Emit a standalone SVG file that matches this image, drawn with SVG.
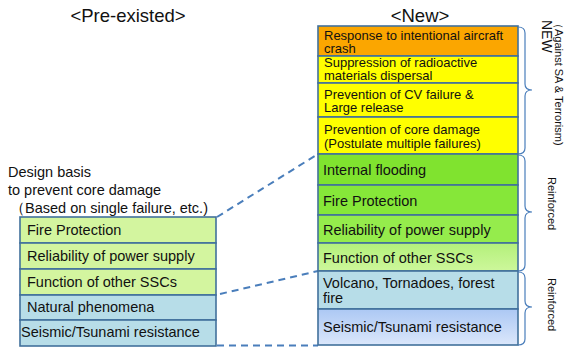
<svg xmlns="http://www.w3.org/2000/svg" width="566" height="348" viewBox="0 0 566 348">
<style>
text{font-family:"Liberation Sans",Arial,sans-serif;fill:#111}
.t{font-size:14.5px}
.y{font-size:13px}
.h{font-size:18.5px}
.b{stroke:#41719c;stroke-width:1.6}
.brace{fill:none;stroke:#4a7ebb;stroke-width:1.2}
.dash{fill:none;stroke:#4a7ebb;stroke-width:2;stroke-dasharray:7 5}
.r{font-size:11px}
</style>
<defs>
<linearGradient id="gSeis" x1="0" y1="0" x2="0" y2="1"><stop offset="0" stop-color="#acc8f4"/><stop offset="1" stop-color="#dbe7fb"/></linearGradient>
<linearGradient id="gFunc" x1="0" y1="0" x2="0" y2="1"><stop offset="0" stop-color="#b3f07a"/><stop offset="1" stop-color="#cdf79b"/></linearGradient>
</defs>
<text class="h" x="128" y="22" text-anchor="middle">&lt;Pre-existed&gt;</text>
<text class="h" x="420" y="22" text-anchor="middle">&lt;New&gt;</text>
<g id="caption">
<text class="t" x="8" y="177">Design basis<tspan x="8" dy="18">to prevent core damage</tspan><tspan x="10" dy="18">（Based on single failure, etc.)</tspan></text>
</g>
<g id="connectors">
<path class="dash" d="M217,217 L318,154"/>
<path class="dash" d="M220,294 L318,271"/>
<path class="dash" d="M217,345.5 L318,345.5"/>
</g>
<g id="left-fire"><rect class="b" x="20" y="217" width="196" height="26" fill="#d3f59f"/><text class="t" x="27" y="235">Fire Protection</text></g>
<g id="left-power"><rect class="b" x="20" y="243" width="196" height="26" fill="#d3f59f"/><text class="t" x="27" y="261">Reliability of power supply</text></g>
<g id="left-ssc"><rect class="b" x="20" y="269" width="196" height="26" fill="#d3f59f"/><text class="t" x="27" y="287">Function of other SSCs</text></g>
<g id="left-natural"><rect class="b" x="20" y="295" width="196" height="25" fill="#b7dde8"/><text class="t" x="27" y="312">Natural phenomena</text></g>
<g id="left-seismic"><rect class="b" x="20" y="320" width="196" height="26" fill="#b7dde8"/><text class="t" x="21" y="337">Seismic/Tsunami resistance</text></g>
<g id="new-aircraft"><rect class="b" x="318" y="26" width="200" height="30" fill="#fba600"/><text class="y" x="324" y="40">Response to intentional aircraft<tspan x="324" dy="12.5">crash</tspan></text></g>
<g id="new-dispersal"><rect class="b" x="318" y="56" width="200" height="27" fill="#ffff00"/><text class="y" x="324" y="67">Suppression of radioactive<tspan x="324" dy="12.5">materials dispersal</tspan></text></g>
<g id="new-cv"><rect class="b" x="318" y="83" width="200" height="34" fill="#ffff00"/><text class="y" x="324" y="99">Prevention of CV failure &amp;<tspan x="324" dy="13">Large release</tspan></text></g>
<g id="new-core"><rect class="b" x="318" y="117" width="200" height="37" fill="#ffff00"/><text class="y" x="324" y="134">Prevention of core damage<tspan x="324" dy="14">(Postulate multiple failures)</tspan></text></g>
<g id="new-flooding"><rect class="b" x="318" y="154" width="200" height="31" fill="#80e32f"/><text class="t" x="323" y="175">Internal flooding</text></g>
<g id="new-fire"><rect class="b" x="318" y="185" width="200" height="30" fill="#86e739"/><text class="t" x="323" y="206">Fire Protection</text></g>
<g id="new-power"><rect class="b" x="318" y="215" width="200" height="28" fill="#95ec4c"/><text class="t" x="323" y="235">Reliability of power supply</text></g>
<g id="new-ssc"><rect class="b" x="318" y="243" width="200" height="28" fill="url(#gFunc)"/><text class="t" x="323" y="263">Function of other SSCs</text></g>
<g id="new-volcano"><rect class="b" x="318" y="271" width="200" height="38" fill="#b7dde8"/><text class="t" x="323" y="288">Volcano, Tornadoes, forest<tspan x="323" dy="15">fire</tspan></text></g>
<g id="new-seismic"><rect class="b" x="318" y="309" width="200" height="36" fill="url(#gSeis)"/><text class="t" x="323" y="332">Seismic/Tsunami resistance</text></g>
<g id="braces">
<path class="brace" d="M518,27 Q525,27 525,33 L525,84 Q525,90 532,90 Q525,90 525,96 L525,148 Q525,154 518,154"/>
<path class="brace" d="M518,155 Q525,155 525,161 L525,206 Q525,212 532,212 Q525,212 525,218 L525,265 Q525,271 518,271"/>
<path class="brace" d="M518,272 Q525,272 525,278 L525,301 Q525,307 532,307 Q525,307 525,313 L525,339 Q525,345 518,345"/>
</g>
<g id="side-labels">
<text x="542" y="20" font-size="14" transform="rotate(90 542 20)">NEW</text>
<text class="r" x="555" y="18" transform="rotate(90 555 18)">（Against SA &amp;  Terrorism)</text>
<text class="r" x="548" y="177" transform="rotate(90 548 177)">Reinforced</text>
<text class="r" x="548" y="278" transform="rotate(90 548 278)">Reinforced</text>
</g>
</svg>
